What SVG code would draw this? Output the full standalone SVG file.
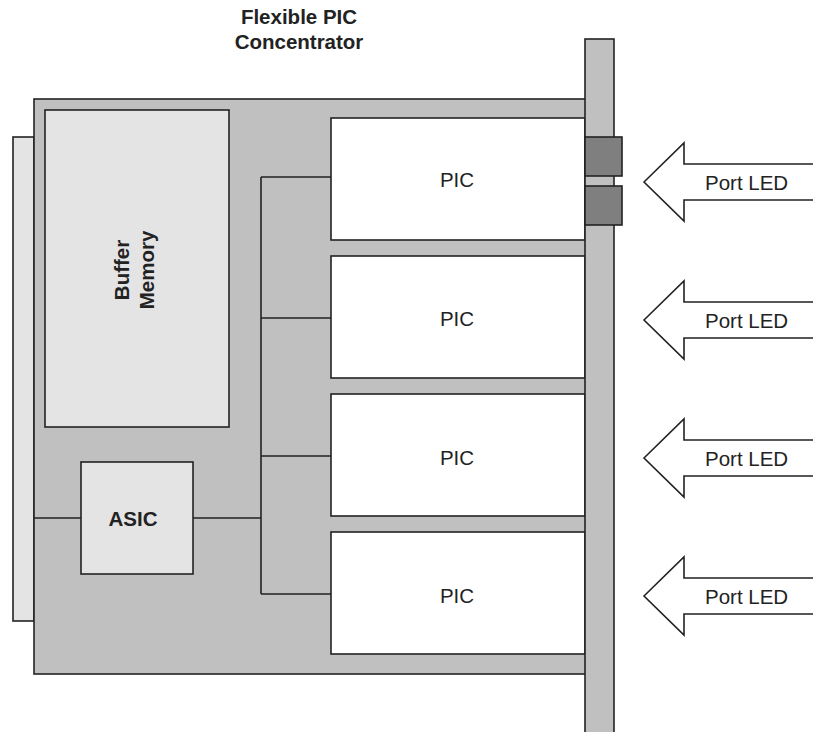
<svg xmlns="http://www.w3.org/2000/svg" width="813" height="732" viewBox="0 0 813 732">
<style>
.s{stroke:#222;stroke-width:1.6;}
.board{fill:#c0c0c0;}
.light{fill:#e4e4e4;}
.pic{fill:#fff;}
.led{fill:#7f7f7f;}
.ln{fill:none;stroke:#222;stroke-width:1.6;}
.t{font-family:"Liberation Sans",Arial,sans-serif;font-size:20.5px;fill:#222;}
.b{font-weight:bold;}
</style>
<rect width="813" height="732" fill="#fff"/>
<g id="title"><text class="t b" x="299" y="24" text-anchor="middle">Flexible PIC</text><text class="t b" x="299" y="49" text-anchor="middle">Concentrator</text></g>
<g id="connector-strip"><rect class="s light" x="13" y="137" width="21" height="484"/></g>
<g id="board"><rect class="s board" x="34" y="99" width="560" height="575"/></g>
<g id="buffer-memory"><rect class="s light" x="45" y="110" width="184" height="317"/>
<text class="t b" transform="translate(129,270) rotate(-90)" text-anchor="middle">Buffer</text>
<text class="t b" transform="translate(154,270) rotate(-90)" text-anchor="middle">Memory</text></g>
<g id="connectors">
<path class="ln" d="M34,518H81M193,518H261M261,177V594M261,177H331M261,318H331M261,456H331M261,594H331"/>
</g>
<g id="asic"><rect class="s light" x="81" y="462" width="112" height="112"/><text class="t b" x="133" y="526" text-anchor="middle">ASIC</text></g>
<g id="pic1"><rect class="s pic" x="331" y="118" width="254" height="122"/><text class="t" x="457" y="187" text-anchor="middle">PIC</text></g>
<g id="pic2"><rect class="s pic" x="331" y="256" width="254" height="122"/><text class="t" x="457" y="326" text-anchor="middle">PIC</text></g>
<g id="pic3"><rect class="s pic" x="331" y="394" width="254" height="122"/><text class="t" x="457" y="465" text-anchor="middle">PIC</text></g>
<g id="pic4"><rect class="s pic" x="331" y="532" width="254" height="122"/><text class="t" x="457" y="603" text-anchor="middle">PIC</text></g>
<g id="backplane"><rect class="s board" x="585" y="39" width="29" height="700"/></g>
<g id="led1"><rect class="s led" x="585" y="137" width="37" height="39"/></g>
<g id="led2"><rect class="s led" x="585" y="186" width="37" height="39"/></g>
<g id="arrow1"><polygon class="s pic" points="644,182 684,143 684,164 816,164 816,200 684,200 684,221"/><text class="t" x="705" y="190">Port LED</text></g>
<g id="arrow2"><polygon class="s pic" points="644,320 684,281 684,302 816,302 816,338 684,338 684,359"/><text class="t" x="705" y="328">Port LED</text></g>
<g id="arrow3"><polygon class="s pic" points="644,458 684,419 684,440 816,440 816,476 684,476 684,497"/><text class="t" x="705" y="466">Port LED</text></g>
<g id="arrow4"><polygon class="s pic" points="644,596 684,557 684,578 816,578 816,614 684,614 684,635"/><text class="t" x="705" y="604">Port LED</text></g>
</svg>
